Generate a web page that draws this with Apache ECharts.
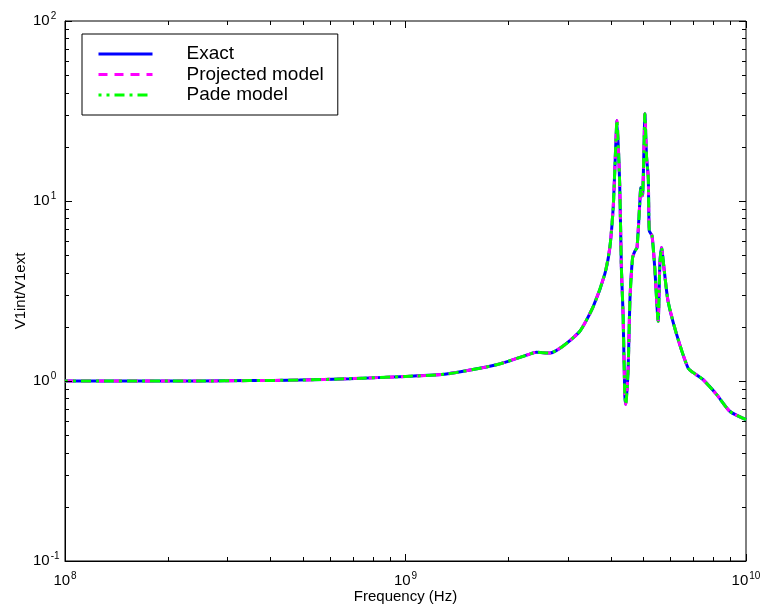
<!DOCTYPE html>
<html><head><meta charset="utf-8">
<script src="https://cdn.jsdelivr.net/npm/echarts@6/dist/echarts.min.js"></script>
<style>html,body{margin:0;padding:0;background:#fff}#c{width:763px;height:611px}</style>
</head><body><div id="c"></div>
<script>
// Frequency in GHz (converted to Hz below)
const freqGHz = [0.1,0.126,0.177,0.248,0.348,0.488,0.684,1.0,1.318,1.849,2.317,2.421,2.655,2.897,3.251,3.556,3.846,3.981,4.074,4.121,4.178,4.256,4.305,4.355,4.406,4.436,4.508,4.560,4.645,4.721,4.786,4.875,4.909,4.966,5.012,5.047,5.105,5.164,5.200,5.297,5.395,5.521,5.585,5.649,5.741,5.902,6.252,6.761,7.161,7.482,8.204,8.974,10.0];
const exact     = [1.00,1.00,1.00,1.00,1.005,1.012,1.03,1.06,1.093,1.23,1.41,1.445,1.43,1.56,1.89,2.58,3.91,5.5,9.2,15.4,28.0,12.5,4.27,2.35,0.84,0.74,1.18,2.78,4.85,5.28,5.51,9.66,11.9,10.7,18.4,30.5,17.5,13.5,6.83,6.4,4.26,2.15,4.47,5.51,4.26,2.78,1.82,1.18,1.08,1.017,0.84,0.677,0.61];
const projected = [1.00,1.00,1.00,1.00,1.005,1.012,1.03,1.06,1.093,1.23,1.41,1.445,1.43,1.56,1.89,2.58,3.91,5.5,9.2,15.4,28.0,12.5,4.27,2.35,0.84,0.74,1.18,2.78,4.85,5.28,5.51,9.66,11.9,10.7,18.4,30.5,17.5,13.5,6.83,6.4,4.26,2.15,4.47,5.51,4.26,2.78,1.82,1.18,1.08,1.017,0.84,0.677,0.61];
const pade      = [1.00,1.00,1.00,1.00,1.005,1.012,1.03,1.06,1.093,1.23,1.41,1.445,1.43,1.56,1.89,2.58,3.91,5.5,9.2,15.4,28.0,12.5,4.27,2.35,0.84,0.74,1.18,2.78,4.85,5.28,5.51,9.66,11.9,10.7,18.4,30.5,17.5,13.5,6.83,6.4,4.26,2.15,4.47,5.51,4.26,2.78,1.82,1.18,1.08,1.017,0.84,0.677,0.61];
const seriesNames = ['Exact','Projected model','Pade model'];
const xDecades = [1e8,1e9,1e10];
const yDecades = [0.1,1,10,100];
const xLabelText = 'Frequency (Hz)';
const yLabelText = 'V1int/V1ext';

const toPairs = arr => arr.map((v,i)=>[freqGHz[i]*1e9, v]);
const FONT = '"Liberation Sans", Arial, Helvetica, sans-serif';

function minorOf(decs){
  const out=[];
  for(let d=0; d<decs.length-1; d++) for(let k=2;k<=9;k++) out.push(decs[d]*k);
  return out;
}
const xMinor = minorOf(xDecades), yMinor = minorOf(yDecades);

function supLabel(v){
  const e = Math.round(Math.log10(v));
  return '{b|10}{s|' + e + '}';
}
const richLab = {
  b:{fontFamily:FONT,fontSize:15,color:'#000'},
  s:{fontFamily:FONT,fontSize:10,color:'#000',padding:[0,0,9,1]}
};

function renderTicks(params, api){
  const xMin=xDecades[0], xMax=xDecades[xDecades.length-1];
  const yMin=yDecades[0], yMax=yDecades[yDecades.length-1];
  const children=[];
  const st={stroke:'#000',lineWidth:1};
  const bl=api.coord([xMin,yMin]), tr=api.coord([xMax,yMax]);
  const L=bl[0], B=bl[1], R=tr[0], T=tr[1];
  function xt(v,len){
    const x=Math.round(api.coord([v,yMin])[0])+0.5;
    children.push({type:'line',shape:{x1:x,y1:B,x2:x,y2:B-len},style:st});
    children.push({type:'line',shape:{x1:x,y1:T,x2:x,y2:T+len},style:st});
  }
  function yt(v,len){
    const y=Math.round(api.coord([xMin,v])[1])+0.5;
    children.push({type:'line',shape:{x1:L,y1:y,x2:L+len,y2:y},style:st});
    children.push({type:'line',shape:{x1:R,y1:y,x2:R-len,y2:y},style:st});
  }
  xDecades.forEach(v=>xt(v,7)); xMinor.forEach(v=>xt(v,4));
  yDecades.forEach(v=>yt(v,7)); yMinor.forEach(v=>yt(v,4));
  return {type:'group',children};
}

const chart = echarts.init(document.getElementById('c'), null, {renderer:'canvas'});
const lw = 3;
chart.setOption({
  animation:false,
  backgroundColor:'#fff',
  grid:{left:65,right:17,top:21,bottom:50,show:true,borderColor:'#000',borderWidth:1,containLabel:false,outerBoundsMode:'none'},
  legend:{
    orient:'vertical', left:82, top:34,
    data:seriesNames,
    backgroundColor:'#fff',
    borderColor:'#000', borderWidth:1,
    padding:[10,14,10,15],
    itemWidth:54, itemHeight:20, itemGap:0.5,
    itemStyle:{opacity:0},
    lineStyle:{width:3},
    textStyle:{fontFamily:FONT,fontSize:19,color:'#000',padding:[0,0,0,29],lineHeight:20},
    selectedMode:false
  },
  xAxis:{
    type:'log', logBase:10, min:xDecades[0], max:xDecades[xDecades.length-1],
    name:xLabelText, nameLocation:'middle', nameGap:28, nameMoveOverlap:false,
    nameTextStyle:{fontFamily:FONT,fontSize:15,color:'#000'},
    axisLine:{show:true,lineStyle:{color:'#000',width:1}},
    axisTick:{show:false}, minorTick:{show:false},
    splitLine:{show:false},
    axisLabel:{margin:10,formatter:supLabel,rich:richLab}
  },
  yAxis:{
    type:'log', logBase:10, min:yDecades[0], max:yDecades[yDecades.length-1],
    name:yLabelText, nameLocation:'middle', nameGap:37, nameRotate:90, nameMoveOverlap:false,
    nameTextStyle:{fontFamily:FONT,fontSize:15,color:'#000'},
    axisLine:{show:true,lineStyle:{color:'#000',width:1}},
    axisTick:{show:false}, minorTick:{show:false},
    splitLine:{show:false},
    axisLabel:{margin:32,align:'left',formatter:supLabel,rich:richLab}
  },
  series:[
    {name:seriesNames[0],type:'line',data:toPairs(exact),symbol:'none',smooth:0.2,
     lineStyle:{color:'#0000ff',width:lw,type:'solid'},itemStyle:{color:'#0000ff'},z:2},
    {name:seriesNames[1],type:'line',data:toPairs(projected),symbol:'none',smooth:0.2,
     lineStyle:{color:'#ff00ff',width:lw,type:[9,7]},itemStyle:{color:'#ff00ff'},z:3},
    {name:seriesNames[2],type:'line',data:toPairs(pade),symbol:'none',smooth:0.2,
     lineStyle:{color:'#00ff00',width:lw,type:[10,5,3,5],dashOffset:7},itemStyle:{color:'#00ff00'},z:4},
    {type:'custom',renderItem:renderTicks,data:[[1e9,1]],silent:true,clip:false,z:5}
  ]
});
</script></body></html>
